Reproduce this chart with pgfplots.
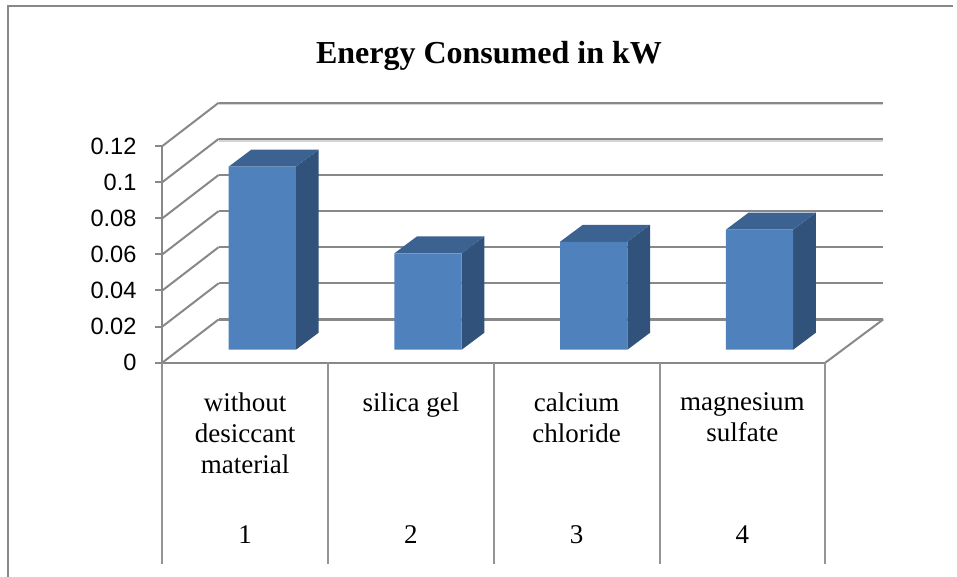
\documentclass[border=0pt]{standalone}
\usepackage{pgfplots}
\pgfplotsset{compat=1.18}
\usepackage{fontspec}
\setmainfont{Liberation Serif}
\newfontfamily\arialf{Liberation Sans}
\definecolor{frontc}{HTML}{4F81BD}
\definecolor{topc}{HTML}{3C6291}
\definecolor{sidec}{HTML}{31527B}
\definecolor{gridc}{HTML}{888888}
\definecolor{sepc}{HTML}{949494}
\definecolor{shadec}{HTML}{D4D4D4}
\begin{document}
\begin{tikzpicture}[x=1pt,y=1pt]
\useasboundingbox (0,0) rectangle (957,577);
\begin{axis}[
  at={(162.3pt,214.3pt)}, anchor=south west,
  scale only axis, width=663pt, height=216.6pt,
  xmin=0.5, xmax=4.5, ymin=-0.0072, ymax=0.1128,
  clip=false,
  axis x line=bottom, axis y line=left,
  axis line style={draw=gridc, line width=2.2pt, -},
  every axis plot/.append style={no marks, sharp plot},
  xtick={1,2,3,4},
  xticklabels={{without\\desiccant\\material},{silica gel},{calcium\\chloride},{magnesium\\sulfate}},
  x tick label style={align=center, anchor=north, yshift=-19.5pt,
    font=\fontsize{27}{31}\selectfont},
  major x tick style={draw=none},
  ytick={-0.0072,0.0128,0.0328,0.0528,0.0728,0.0928,0.1128},
  yticklabels={0,0.02,0.04,0.06,0.08,0.1,0.12},
  y tick label style={font=\arialf\fontsize{23.6}{27}\selectfont, anchor=east, xshift=-15pt},
  major tick length=7.3pt,
  tick align=outside,
  tick style={draw=gridc, line width=2pt},
]
% outer frame
\addplot[gridc, line width=2.4pt] coordinates {(-0.4315,-0.1259) (-0.4315,0.1905) (5.27,0.1905)};
% back wall shadows
\addplot[shadec, line width=1.5pt, yshift=-1.9pt] coordinates {(0.84,0.1368) (4.85,0.1368)};
\addplot[shadec, line width=1.5pt, yshift=-1.9pt] coordinates {(0.84,0.1168) (4.85,0.1168)};
% back wall grid lines
\addplot[gridc, line width=2.1pt] coordinates {(0.84,0.1368) (4.85,0.1368)};
\addplot[gridc, line width=2.1pt] coordinates {(0.84,0.1168) (4.85,0.1168)};
\addplot[gridc, line width=2.1pt] coordinates {(0.84,0.0968) (4.85,0.0968)};
\addplot[gridc, line width=2.1pt] coordinates {(0.84,0.0768) (4.85,0.0768)};
\addplot[gridc, line width=2.1pt] coordinates {(0.84,0.0568) (4.85,0.0568)};
\addplot[gridc, line width=2.1pt] coordinates {(0.84,0.0368) (4.85,0.0368)};
\addplot[gridc, line width=2.5pt] coordinates {(0.84,0.0168) (4.85,0.0168)};
% side wall diagonals
\addplot[gridc, line width=2pt] coordinates {(0.5,0.1128) (0.84,0.1368)};
\addplot[gridc, line width=2pt] coordinates {(0.5,0.0928) (0.84,0.1168)};
\addplot[gridc, line width=2pt] coordinates {(0.5,0.0728) (0.84,0.0968)};
\addplot[gridc, line width=2pt] coordinates {(0.5,0.0528) (0.84,0.0768)};
\addplot[gridc, line width=2pt] coordinates {(0.5,0.0328) (0.84,0.0568)};
\addplot[gridc, line width=2pt] coordinates {(0.5,0.0128) (0.84,0.0368)};
\addplot[gridc, line width=2pt] coordinates {(0.5,-0.0072) (0.84,0.0168)};
\addplot[gridc, line width=2pt] coordinates {(4.5,-0.0072) (4.85,0.0168)};
% category separators
\addplot[sepc, line width=2.1pt] coordinates {(0.5,-0.0072) (0.5,-0.1187)};
\addplot[sepc, line width=2.1pt] coordinates {(1.5,-0.0072) (1.5,-0.1187)};
\addplot[sepc, line width=2.1pt] coordinates {(2.5,-0.0072) (2.5,-0.1187)};
\addplot[sepc, line width=2.1pt] coordinates {(3.5,-0.0072) (3.5,-0.1187)};
\addplot[sepc, line width=2.1pt] coordinates {(4.5,-0.0072) (4.5,-0.1187)};
% bar 1
\addplot[draw=none, fill=sidec] coordinates {(1.306,0) (1.306,0.1014) (1.443,0.1108) (1.443,0.0094)} -- cycle;
\addplot[draw=none, fill=topc] coordinates {(0.9,0.1014) (1.306,0.1014) (1.443,0.1108) (1.037,0.1108)} -- cycle;
% bar 2
\addplot[draw=none, fill=sidec] coordinates {(2.306,0) (2.306,0.0534) (2.443,0.0628) (2.443,0.0094)} -- cycle;
\addplot[draw=none, fill=topc] coordinates {(1.9,0.0534) (2.306,0.0534) (2.443,0.0628) (2.037,0.0628)} -- cycle;
% bar 3
\addplot[draw=none, fill=sidec] coordinates {(3.306,0) (3.306,0.0598) (3.443,0.0692) (3.443,0.0094)} -- cycle;
\addplot[draw=none, fill=topc] coordinates {(2.9,0.0598) (3.306,0.0598) (3.443,0.0692) (3.037,0.0692)} -- cycle;
% bar 4
\addplot[draw=none, fill=sidec] coordinates {(4.306,0) (4.306,0.0665) (4.443,0.0759) (4.443,0.0094)} -- cycle;
\addplot[draw=none, fill=topc] coordinates {(3.9,0.0665) (4.306,0.0665) (4.443,0.0759) (4.037,0.0759)} -- cycle;
% front faces
\addplot[ybar, bar width=0.406, bar shift=0.103, draw=none, fill=frontc] coordinates {(1,0.1014) (2,0.0534) (3,0.0598) (4,0.0665)};
% titles and second tier
\node[font=\bfseries\fontsize{32}{36}\selectfont] at (axis cs:2.471,0.1627) {Energy Consumed in kW};
\node[font=\fontsize{27}{31}\selectfont] at (axis cs:1,-0.1025) {1};
\node[font=\fontsize{27}{31}\selectfont] at (axis cs:2,-0.1025) {2};
\node[font=\fontsize{27}{31}\selectfont] at (axis cs:3,-0.1025) {3};
\node[font=\fontsize{27}{31}\selectfont] at (axis cs:4,-0.1025) {4};
\end{axis}
\end{tikzpicture}
\end{document}
